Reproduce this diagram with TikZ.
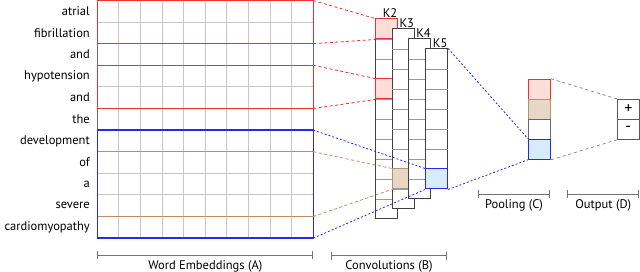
\documentclass[tikz,border=0pt]{standalone}
\usepackage{fontspec}
\setmainfont{PT Sans}
\usepackage{xcolor}
\usetikzlibrary{arrows.meta}

\definecolor{hlred}{RGB}{238,48,48}
\definecolor{hlredfill}{RGB}{255,222,216}
\definecolor{hlbrown}{RGB}{192,140,100}
\definecolor{hlbrownedge}{RGB}{176,146,120}
\definecolor{hlbrownfill}{RGB}{233,215,198}
\definecolor{hlblue}{RGB}{40,40,238}
\definecolor{hlbluefill}{RGB}{214,236,248}

\begin{document}
\begin{tikzpicture}[x=1pt, y=1pt,
    font=\fontsize{12.5}{15}\selectfont,
    word/.style={anchor=east, inner sep=0pt},
    gridline/.style={draw=black!22, line width=1.1pt},
    convline/.style={draw=black!40, line width=0.9pt},
    convcol/.style={draw=black!75, fill=white, line width=1pt, minimum width=22pt, inner sep=0pt},
    cellbox/.style={minimum width=22pt, minimum height=20pt, inner sep=0pt, line width=1pt},
    klabel/.style={anchor=base east, inner sep=0pt},
    redlink/.style={hlred, line width=0.8pt, dash pattern=on 3pt off 2.5pt},
    brownlink/.style={hlbrown, line width=0.8pt, dash pattern=on 3pt off 2.5pt},
    bluelink/.style={hlblue, line width=0.8pt, dash pattern=on 2pt off 2pt},
    graylink/.style={black!45, line width=0.8pt, dash pattern=on 3pt off 3pt},
    scalebar/.style={draw=black!55, line width=0.9pt, {Bar[width=8pt]}-{Bar[width=8pt]}},
    barlabel/.style={inner sep=0pt}]
    \useasboundingbox (0,0) rectangle (640,-272);

    % Word embeddings (A)
    \foreach \i in {1,...,10}
        \draw[gridline] (97.3,-0.5-21.6*\i) -- (313.3,-0.5-21.6*\i);
    \foreach \i in {1,...,9}
        \draw[gridline] (97.3+21.6*\i,-0.5) -- (97.3+21.6*\i,-238.1);
    \draw[draw=black!60, line width=1.2pt] (97.3,-0.5) rectangle (313.3,-238.1);
    \draw[hlbrown, line width=1.2pt] (97.3,-151.7) -- (313.3,-151.7);
    \draw[hlbrown, line width=1.2pt] (97.3,-216.5) -- (313.3,-216.5);
    \draw[hlred, line width=1.3pt] (97.3,-0.5) rectangle (313.3,-43.7);
    \draw[hlred, line width=1.3pt] (97.3,-65.3) rectangle (313.3,-108.5);
    \draw[hlblue, line width=1.3pt] (97.3,-130.1) rectangle (313.3,-238.1);
    \foreach \w [count=\i from 0] in {atrial, fibrillation, and, hypotension, and, the, development, of, a, severe, cardiomyopathy}
        \node[word] (w\i) at (90,-11.3-21.6*\i) {\w};

    \coordinate (e0) at (313.3,-0.5);
    \coordinate (e2) at (313.3,-43.7);
    \coordinate (e3) at (313.3,-65.3);
    \coordinate (e5) at (313.3,-108.5);
    \coordinate (e6) at (313.3,-130.1);
    \coordinate (e7) at (313.3,-151.7);
    \coordinate (e10) at (313.3,-216.5);
    \coordinate (e11) at (313.3,-238.1);

    % Convolutions (B)
    \node[convcol, minimum height=200pt] (k2) at (386.5,-119) {};
    \foreach \j in {1,...,9}
        \draw[convline] (375.5,-19-20*\j) -- (397.5,-19-20*\j);
    \node[cellbox, draw=hlred, fill=hlredfill] (k2a) at (386.5,-29) {};
    \node[cellbox, draw=hlred, fill=hlredfill] (k2b) at (386.5,-89) {};
    \node[klabel] (k2l) at (397.5,-17.3) {K2};

    \node[convcol, minimum height=180pt] (k3) at (403.2,-119) {};
    \foreach \j in {1,...,8}
        \draw[convline] (392.2,-29-20*\j) -- (414.2,-29-20*\j);
    \node[cellbox, draw=hlbrownedge, fill=hlbrownfill] (k3c) at (403.2,-179) {};
    \node[klabel] (k3l) at (414.2,-27.3) {K3};

    \node[convcol, minimum height=160pt] (k4) at (419.9,-119) {};
    \foreach \j in {1,...,7}
        \draw[convline] (408.9,-39-20*\j) -- (430.9,-39-20*\j);
    \node[klabel] (k4l) at (430.9,-37.3) {K4};

    \node[convcol, minimum height=140pt] (k5) at (436.6,-119) {};
    \foreach \j in {1,...,6}
        \draw[convline] (425.6,-49-20*\j) -- (447.6,-49-20*\j);
    \node[cellbox, draw=hlblue, fill=hlbluefill] (k5c) at (436.6,-179) {};
    \node[klabel] (k5l) at (447.6,-47.3) {K5};

    % Pooling (C)
    \node[cellbox, draw=hlred, fill=hlredfill] (p1) at (539.5,-89.3) {};
    \node[cellbox, draw=hlbrownedge, fill=hlbrownfill] (p2) at (539.5,-109.3) {};
    \node[cellbox, draw=black!60, fill=white] (p3) at (539.5,-129.3) {};
    \node[cellbox, draw=hlblue, fill=hlbluefill] (p4) at (539.5,-149.3) {};

    % Output (D)
    \node[cellbox, draw=black!65, font=\fontsize{16}{16}\selectfont] (o1) at (628.3,-109.3) {+};
    \node[cellbox, draw=black!65, font=\fontsize{16}{16}\selectfont] (o2) at (628.3,-129.3) {-};

    % connectors
    \draw[redlink] (e0) -- (k2a.north west);
    \draw[redlink] (e2) -- (k2a.south west);
    \draw[redlink] (e3) -- (k2b.north west);
    \draw[redlink] (e5) -- (k2b.south west);
    \draw[brownlink] (e7) -- (k3c.north west);
    \draw[brownlink] (e10) -- (k3c.south west);
    \draw[bluelink] (e6) -- (k5c.north west);
    \draw[bluelink] (e11) -- (k5c.south west);
    \draw[bluelink] (k5.north east) -- (p4.north west);
    \draw[bluelink] (k5c.south east) -- (p4.south west);
    \draw[graylink] (p1.north east) -- (o1.north west);
    \draw[graylink] (p4.south east) -- (o2.south west);

    % scale bars
    \draw[scalebar] (97.3,-255) -- (313.3,-255);
    \node[barlabel] (labA) at (205.3,-266) {Word Embeddings (A)};
    \draw[scalebar] (330.7,-255.7) -- (447.3,-255.7);
    \node[barlabel] (labB) at (389,-266) {Convolutions (B)};
    \draw[scalebar] (477.7,-194) -- (550.3,-194);
    \node[barlabel] (labC) at (514,-205) {Pooling (C)};
    \draw[scalebar] (567.3,-194) -- (639.3,-194);
    \node[barlabel] (labD) at (603.3,-205) {Output (D)};
\end{tikzpicture}
\end{document}
